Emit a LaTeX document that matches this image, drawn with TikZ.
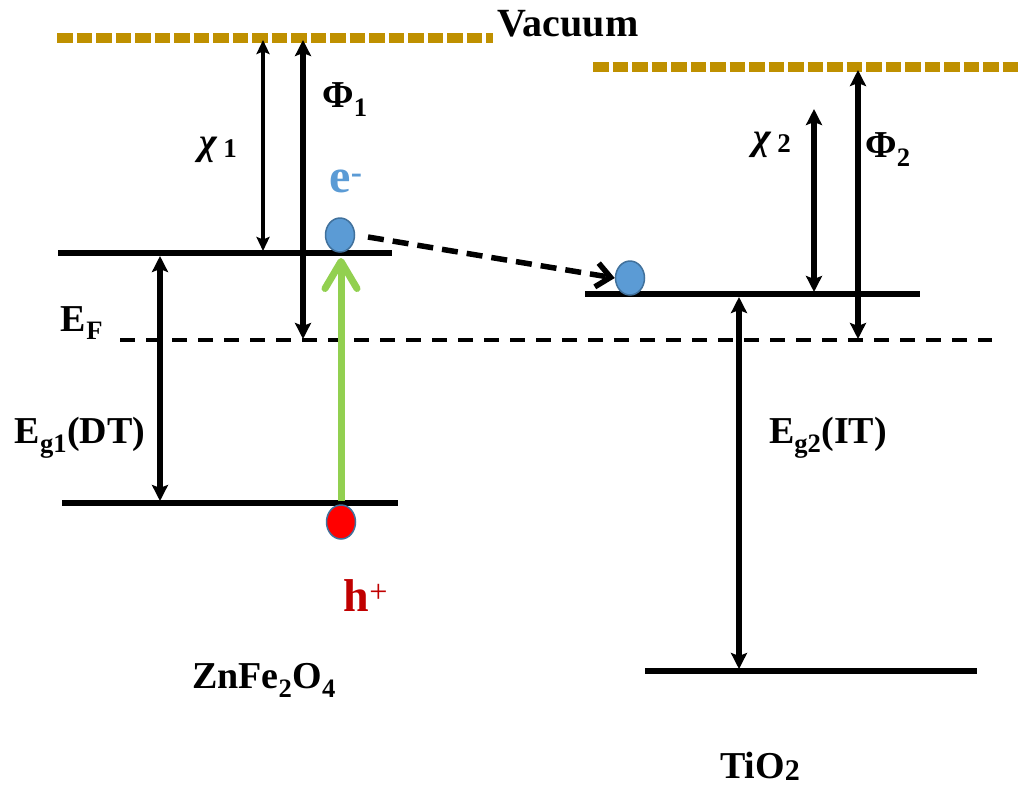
\documentclass[tikz,border=0pt]{standalone}
\usepackage{fontspec}
\setmainfont{Liberation Serif}
\usetikzlibrary{arrows.meta,shapes.geometric}
\definecolor{vacgold}{HTML}{BF9000}
\definecolor{eblue}{HTML}{5B9BD5}
\definecolor{eedge}{HTML}{41719C}
\definecolor{hred}{HTML}{C00000}
\definecolor{lgreen}{HTML}{92D050}
\tikzset{
  level/.style={line width=5.5pt},
  vaclevel/.style={vacgold, line width=10pt, dash pattern=on 15.5pt off 4pt},
  fermi/.style={line width=3.5pt, dash pattern=on 15pt off 11pt},
  gaparrow/.style={line width=5.5pt, {Stealth[length=16pt,width=16pt,inset=3pt]}-{Stealth[length=16pt,width=16pt,inset=3pt]}},
  thinarrow/.style={line width=4.2pt, {Stealth[length=14pt,width=13pt,inset=2.5pt]}-{Stealth[length=14pt,width=13pt,inset=2.5pt]}},
  carrier/.style={ellipse, draw=eedge, line width=1.5pt, minimum width=29pt, minimum height=34pt, inner sep=0},
  lbl/.style={font=\bfseries\fontsize{38}{40}\selectfont, inner sep=0}
}
\begin{document}
\begin{tikzpicture}[x=1pt,y=-1pt]
\useasboundingbox (0,0) rectangle (1019,785);
\coordinate (vac1l) at (57,38);
\coordinate (vac1r) at (493,38);
\coordinate (vac2l) at (593,67);
\coordinate (vac2r) at (1019,67);
\coordinate (cb1l) at (58,253);
\coordinate (cb1r) at (392,253);
\coordinate (vb1l) at (62,503);
\coordinate (vb1r) at (398,503);
\coordinate (cb2l) at (585,294);
\coordinate (cb2r) at (920,294);
\coordinate (vb2l) at (645,671);
\coordinate (vb2r) at (977,671);
\coordinate (efl) at (120,340);
\coordinate (efr) at (992,340);
\draw[vaclevel](vac1l) -- (vac1r);
\draw[vaclevel](vac2l) -- (vac2r);
\draw[level](cb1l) -- (cb1r);
\draw[level](vb1l) -- (vb1r);
\draw[level](cb2l) -- (cb2r);
\draw[level](vb2l) -- (vb2r);
\draw[fermi](efl) -- (efr);
\coordinate (chi1t) at (263,40);
\coordinate (chi1b) at (263,251);
\coordinate (phi1t) at (303,40);
\coordinate (phi1b) at (303,339);
\coordinate (eg1t) at (160,256);
\coordinate (eg1b) at (160,501);
\coordinate (chi2t) at (814,109);
\coordinate (chi2b) at (814,292);
\coordinate (phi2t) at (858,70);
\coordinate (phi2b) at (858,339);
\coordinate (eg2t) at (739,297);
\coordinate (eg2b) at (739,669);
\draw[thinarrow](chi1t) -- (chi1b);
\draw[gaparrow](phi1t) -- (phi1b);
\draw[gaparrow](eg1t) -- (eg1b);
\draw[gaparrow](chi2t) -- (chi2b);
\draw[gaparrow](phi2t) -- (phi2b);
\draw[gaparrow](eg2t) -- (eg2b);
\coordinate (exb) at (341,501);
\coordinate (ext) at (341,258);
\draw[lgreen, line width=7pt, -{Straight Barb[length=27pt,width=32pt,round]}](exb) -- (ext);
\node[carrier, fill=eblue] (el1) at (340,235){};
\node[carrier, fill=eblue] (el2) at (630,278){};
\node[carrier, fill=red] (ho1) at (341,522){};
\coordinate (trs) at (368,237);
\draw[line width=5.5pt, dash pattern=on 16pt off 9pt, -{Straight Barb[length=14pt,width=24pt]}](trs) -- (el2.west);
\node[lbl, font=\bfseries\fontsize{40}{42}\selectfont] (vac) at (568,24) {Vacuum};
\node[lbl] (phi1) at (345,100) {Φ\textsubscript{1}};
\node[lbl] (chi1) at (218,150) {{\itshape χ}\,{\fontsize{27}{27}\selectfont\raisebox{-0.12em}{1}}};
\node[lbl, eblue, font=\bfseries\fontsize{48}{50}\selectfont] (elab) at (346,181) {e\textsuperscript{-}};
\node[lbl] (ef) at (82,323) {E\textsubscript{F}};
\node[lbl] (eg1) at (80,438) {E\textsubscript{g1}(DT)};
\node[lbl, hred, font=\bfseries\fontsize{46}{48}\selectfont] (hlab) at (366,596) {h\textsuperscript{\mdseries+}};
\node[lbl] (zfo) at (264,680) {ZnFe\textsubscript{2}O\textsubscript{4}};
\node[lbl] (chi2) at (772,145) {{\itshape χ}\,{\fontsize{27}{27}\selectfont\raisebox{-0.12em}{2}}};
\node[lbl] (phi2) at (888,150) {Φ\textsubscript{2}};
\node[lbl] (eg2) at (828,438) {E\textsubscript{g2}(IT)};
\node[lbl] (tio) at (760,766) {TiO{\fontsize{30}{30}\selectfont\raisebox{-0.12ex}{2}}};
\end{tikzpicture}
\end{document}
